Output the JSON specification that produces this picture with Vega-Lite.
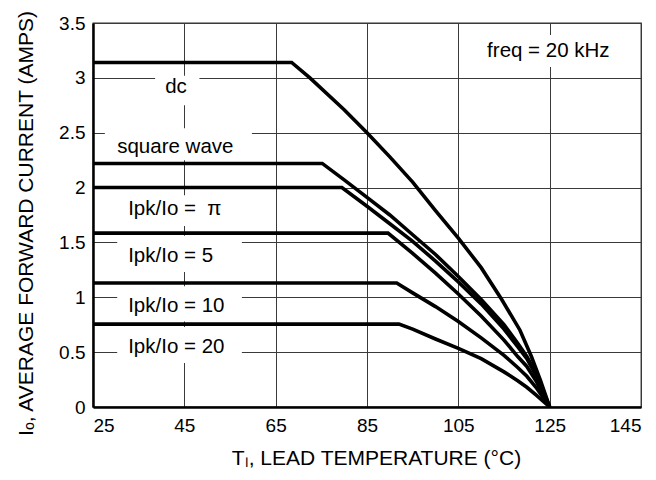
{
  "$schema": "https://vega.github.io/schema/vega-lite/v6.json",
  "width": 548,
  "height": 384,
  "autosize": {"type": "none"},
  "padding": {"left": 93, "top": 23, "right": 15, "bottom": 73},
  "background": "white",
  "config": {
    "font": "Liberation Sans",
    "view": {"stroke": "#333333", "strokeWidth": 1.3},
    "axis": {
      "grid": true,
      "gridColor": "#3a3a3a",
      "gridWidth": 1,
      "gridOpacity": 1,
      "ticks": false,
      "domainColor": "black",
      "domainWidth": 2.5,
      "labelFont": "Liberation Sans",
      "labelFontSize": 19,
      "labelColor": "black",
      "titleFont": "Liberation Sans",
      "titleFontWeight": "normal",
      "titleColor": "black"
    }
  },
  "datasets": {
    "curves": [
      {"series": "dc", "T": 25, "I": 3.14},
      {"series": "dc", "T": 68.5, "I": 3.14},
      {"series": "dc", "T": 72.5, "I": 3.0},
      {"series": "dc", "T": 80, "I": 2.71},
      {"series": "dc", "T": 85, "I": 2.5},
      {"series": "dc", "T": 90, "I": 2.28},
      {"series": "dc", "T": 95, "I": 2.05},
      {"series": "dc", "T": 100, "I": 1.79},
      {"series": "dc", "T": 105, "I": 1.54},
      {"series": "dc", "T": 110, "I": 1.27},
      {"series": "dc", "T": 114.5, "I": 0.98},
      {"series": "dc", "T": 118.5, "I": 0.7},
      {"series": "dc", "T": 121, "I": 0.46},
      {"series": "dc", "T": 123, "I": 0.24},
      {"series": "dc", "T": 125, "I": 0},
      {"series": "square wave", "T": 25, "I": 2.22},
      {"series": "square wave", "T": 75.2, "I": 2.22},
      {"series": "square wave", "T": 80, "I": 2.07},
      {"series": "square wave", "T": 85, "I": 1.91},
      {"series": "square wave", "T": 90, "I": 1.75},
      {"series": "square wave", "T": 95, "I": 1.57},
      {"series": "square wave", "T": 100, "I": 1.39},
      {"series": "square wave", "T": 105, "I": 1.19},
      {"series": "square wave", "T": 110, "I": 0.98},
      {"series": "square wave", "T": 115, "I": 0.75},
      {"series": "square wave", "T": 118, "I": 0.58},
      {"series": "square wave", "T": 120, "I": 0.46},
      {"series": "square wave", "T": 122, "I": 0.31},
      {"series": "square wave", "T": 125, "I": 0},
      {"series": "pi", "T": 25, "I": 2.0},
      {"series": "pi", "T": 79.5, "I": 2.0},
      {"series": "pi", "T": 85, "I": 1.83},
      {"series": "pi", "T": 90, "I": 1.67},
      {"series": "pi", "T": 95, "I": 1.51},
      {"series": "pi", "T": 100, "I": 1.33},
      {"series": "pi", "T": 105, "I": 1.14},
      {"series": "pi", "T": 110, "I": 0.94},
      {"series": "pi", "T": 115, "I": 0.71},
      {"series": "pi", "T": 118, "I": 0.55},
      {"series": "pi", "T": 120, "I": 0.44},
      {"series": "pi", "T": 122, "I": 0.29},
      {"series": "pi", "T": 125, "I": 0},
      {"series": "5", "T": 25, "I": 1.585},
      {"series": "5", "T": 89.6, "I": 1.585},
      {"series": "5", "T": 95, "I": 1.4},
      {"series": "5", "T": 100, "I": 1.22},
      {"series": "5", "T": 105, "I": 1.03},
      {"series": "5", "T": 110, "I": 0.83},
      {"series": "5", "T": 115, "I": 0.61},
      {"series": "5", "T": 118, "I": 0.46},
      {"series": "5", "T": 120, "I": 0.37},
      {"series": "5", "T": 122, "I": 0.24},
      {"series": "5", "T": 125, "I": 0},
      {"series": "10", "T": 25, "I": 1.13},
      {"series": "10", "T": 91.5, "I": 1.13},
      {"series": "10", "T": 95, "I": 1.04},
      {"series": "10", "T": 100, "I": 0.915},
      {"series": "10", "T": 105, "I": 0.78},
      {"series": "10", "T": 110, "I": 0.63},
      {"series": "10", "T": 115, "I": 0.47},
      {"series": "10", "T": 118, "I": 0.36},
      {"series": "10", "T": 120, "I": 0.28},
      {"series": "10", "T": 122, "I": 0.18},
      {"series": "10", "T": 125, "I": 0},
      {"series": "20", "T": 25, "I": 0.755},
      {"series": "20", "T": 92, "I": 0.755},
      {"series": "20", "T": 95, "I": 0.71},
      {"series": "20", "T": 100, "I": 0.62},
      {"series": "20", "T": 105, "I": 0.535},
      {"series": "20", "T": 110, "I": 0.44},
      {"series": "20", "T": 115, "I": 0.32},
      {"series": "20", "T": 118, "I": 0.24},
      {"series": "20", "T": 120, "I": 0.18},
      {"series": "20", "T": 122, "I": 0.11},
      {"series": "20", "T": 125, "I": 0}
    ],
    "labels": [
      {"text": "dc", "T": 40.8, "I": 2.865, "t1": 38.6, "t2": 48.3, "i1": 2.75, "i2": 3.02},
      {"text": "square wave", "T": 30.3, "I": 2.318, "t1": 27.6, "t2": 59.8, "i1": 2.25, "i2": 2.54},
      {"text": "Ipk/Io = \u00a0π", "T": 32.7, "I": 1.75, "t1": 30.3, "t2": 57.6, "i1": 1.65, "i2": 1.93},
      {"text": "Ipk/Io = 5", "T": 32.7, "I": 1.325, "t1": 30.3, "t2": 57.6, "i1": 1.23, "i2": 1.56},
      {"text": "Ipk/Io = 10", "T": 32.7, "I": 0.869, "t1": 30.3, "t2": 57.6, "i1": 0.78, "i2": 1.1},
      {"text": "Ipk/Io = 20", "T": 32.7, "I": 0.495, "t1": 30.3, "t2": 57.6, "i1": 0.4, "i2": 0.73},
      {"text": "freq = 20 kHz", "T": 111.3, "I": 3.19, "t1": 111, "t2": 139.5, "i1": 3.1, "i2": 3.39}
    ]
  },
  "layer": [
    {
      "data": {"name": "labels"},
      "mark": {"type": "rect", "fill": "white", "stroke": null},
      "encoding": {
        "x": {"field": "t1", "type": "quantitative", "scale": {"domain": [25, 145], "nice": false, "zero": false},
              "axis": {"values": [25, 45, 65, 85, 105, 125, 145], "format": "d", "labelPadding": 9,
                       "title": "Tₗ, LEAD TEMPERATURE (°C)", "titleFontSize": 21, "titlePadding": 12, "titleX": 283}},
        "x2": {"field": "t2"},
        "y": {"field": "i1", "type": "quantitative", "scale": {"domain": [0, 3.5], "nice": false, "zero": false},
              "axis": {"values": [0, 0.5, 1, 1.5, 2, 2.5, 3, 3.5], "format": "~g", "labelPadding": 8,
                       "title": "Iₒ, AVERAGE FORWARD CURRENT (AMPS)", "titleFontSize": 21, "titlePadding": 22, "titleY": 200}},
        "y2": {"field": "i2"}
      }
    },
    {
      "data": {"name": "labels"},
      "mark": {"type": "text", "align": "left", "baseline": "alphabetic", "fontSize": 20.5, "font": "Liberation Sans", "color": "black"},
      "encoding": {
        "x": {"field": "T", "type": "quantitative"},
        "y": {"field": "I", "type": "quantitative"},
        "text": {"field": "text"}
      }
    },
    {
      "data": {"name": "curves"},
      "mark": {"type": "line", "color": "black", "strokeWidth": 3.6, "interpolate": "linear"},
      "encoding": {
        "x": {"field": "T", "type": "quantitative"},
        "y": {"field": "I", "type": "quantitative"},
        "detail": {"field": "series"},
        "order": {"field": "T"}
      }
    }
  ]
}
